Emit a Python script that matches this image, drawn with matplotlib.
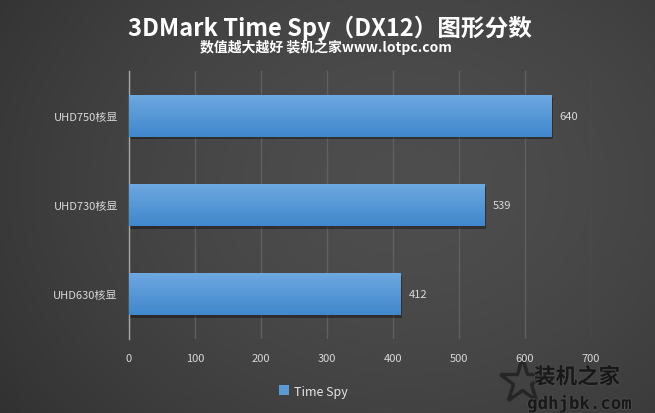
import numpy as np
import matplotlib.pyplot as plt
import matplotlib.patheffects as pe
from matplotlib.patches import Rectangle

plt.rcParams['font.family'] = ['Noto Sans CJK SC', 'DejaVu Sans']

categories = ['UHD630核显', 'UHD730核显', 'UHD750核显']
scores = [412, 539, 640]
series_name = 'Time Spy'
xticks = [0, 100, 200, 300, 400, 500, 600, 700]

title = '3DMark Time Spy（DX12）图形分数'
subtitle = '数值越大越好 装机之家www.lotpc.com'

fig = plt.figure(figsize=(6.55, 4.14), dpi=100)

# 背景渐变
bg = fig.add_axes([0, 0, 1, 1])
gx, gy = np.meshgrid(np.linspace(0, 1, 300), np.linspace(0, 1, 200))
r = np.sqrt(((gx - 0.62) / 0.8) ** 2 + ((gy - 0.55) / 1.0) ** 2)
shade = np.clip(0.305 - 0.12 * r ** 1.6, 0.175, 0.31)
bg.imshow(np.dstack([shade] * 3), extent=[0, 1, 0, 1], aspect='auto', origin='lower')
bg.set_xlim(0, 1)
bg.set_ylim(0, 1)
bg.set_axis_off()

ax = fig.add_axes([0.197, 0.179, 0.705, 0.647])
ax.set_facecolor('none')

ypos = np.arange(len(categories))
h = 0.47
grad = np.linspace(0, 1, 100).reshape(-1, 1)
top_c = np.array([0.43, 0.66, 0.88])
bot_c = np.array([0.25, 0.53, 0.80])
for y, v in zip(ypos, scores):
    # 阴影
    ax.add_patch(Rectangle((0, y - h / 2 - 0.03), v + 2, h, color='black',
                           alpha=0.35, lw=0, zorder=2))
    bar = Rectangle((0, y - h / 2), v, h, facecolor='none', lw=0, zorder=3)
    ax.add_patch(bar)
    img = bot_c + (top_c - bot_c) * grad[:, :, None] * np.ones((1, 1, 3))
    im = ax.imshow(img, extent=[0, v, y - h / 2, y + h / 2], origin='lower',
                   aspect='auto', zorder=3)
    im.set_clip_path(bar)
    ax.text(v + 12, y, str(v), va='center', ha='left', color='#d9d9d9',
            fontsize=8)

ax.set_xlim(0, 700)
ax.set_ylim(-0.5, 2.5)
ax.set_xticks(xticks)
ax.set_xticklabels([str(t) for t in xticks])
ax.set_yticks(ypos)
ax.set_yticklabels(categories)
ax.tick_params(axis='both', length=0, colors='#d9d9d9', labelsize=8)
ax.tick_params(axis='x', pad=10)
ax.tick_params(axis='y', pad=8)
ax.xaxis.grid(True, color='#5f5f5f', lw=1, zorder=1)
ax.set_axisbelow(True)
for s in ['top', 'right', 'bottom']:
    ax.spines[s].set_visible(False)
ax.spines['left'].set_color('#a6a6a6')
ax.spines['left'].set_linewidth(1)

fig.text(0.503, 0.932, title, ha='center', va='center', color='white',
         fontsize=17, fontweight='bold')
fig.text(0.498, 0.886, subtitle, ha='center', va='center', color='white',
         fontsize=10, fontweight='bold')

# 图例
fig.patches.append(Rectangle((0.426, 0.043), 0.015, 0.024, transform=fig.transFigure,
                             facecolor='#5b9bd5', edgecolor='none'))
fig.text(0.449, 0.053, series_name, ha='left', va='center', color='#e6e6e6',
         fontsize=9)

# 水印
wm = [pe.withStroke(linewidth=1.2, foreground='#4a4a4a')]
bg.plot([0.797], [0.077], marker='*', ms=34, mfc='none', mec='#262626', mew=2.5)
fig.text(0.881, 0.087, '装机之家', ha='center', va='center', color='#181818',
         fontsize=15.5, fontweight='bold', path_effects=wm)
fig.text(0.885, 0.022, 'gdhjbk.com', ha='center', va='center', color='#181818',
         fontsize=12.5, fontweight='bold', family='DejaVu Sans Mono', path_effects=wm)

fig.savefig('out.png', dpi=100)
